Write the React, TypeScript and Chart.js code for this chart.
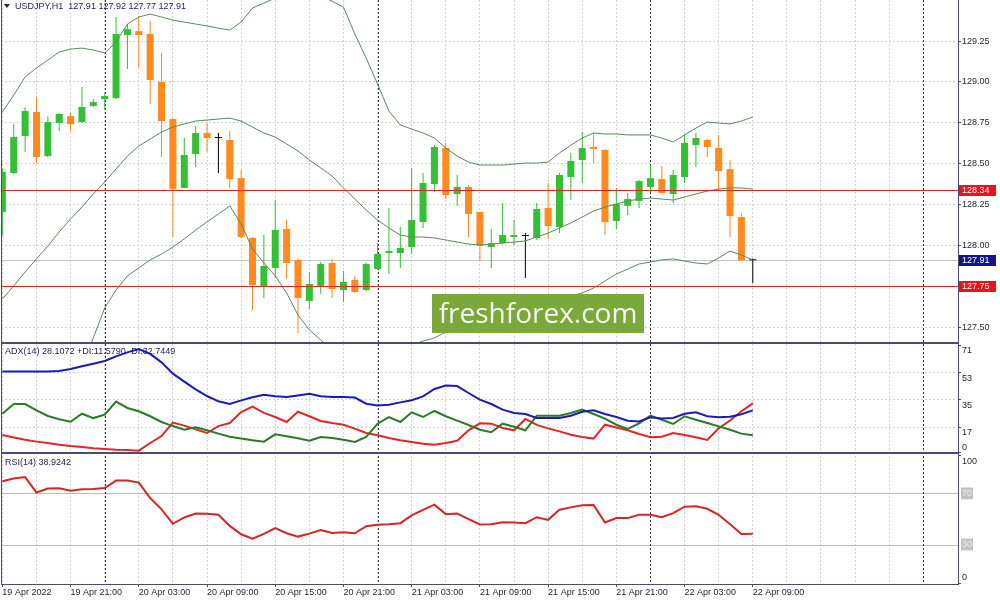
import React, { useEffect, useRef } from 'react';
import { Chart, registerables } from 'chart.js';

Chart.register(...registerables);

// ---------------- data ----------------
const SYMBOL = 'USDJPY,H1';
const LAST_QUOTE = ['127.91', '127.92', '127.77', '127.91'];
const ADX_LEGEND = 'ADX(14) 28.1072 +DI:11.5790 -DI:32.7449';
const RSI_LEGEND = 'RSI(14) 38.9242';

// hourly bars, first bar = 19 Apr 15:00
const OPEN = [128.205, 128.443, 128.669, 128.816, 128.547, 128.749, 128.791, 128.755, 128.853, 128.895,
  128.901, 129.287, 129.311, 129.293, 129.000, 128.773, 128.352, 128.559, 128.688, 128.657,
  128.645, 128.412, 128.046, 127.753, 127.863, 128.101, 127.911, 127.661, 127.753, 127.893,
  127.728, 127.790, 127.728, 127.857, 127.954, 127.954, 127.991, 128.144, 128.376, 128.596,
  128.315, 128.358, 128.205, 127.991, 128.015, 128.052, 128.058, 128.046, 128.229, 128.113,
  128.419, 128.523, 128.602, 128.584, 128.150, 128.242, 128.272, 128.358, 128.406, 128.315,
  128.419, 128.614, 128.645, 128.596, 128.467, 128.174, 127.910];
const HIGH = [128.470, 128.742, 128.846, 128.907, 128.791, 128.810, 128.810, 128.969, 128.895, 128.932,
  129.397, 129.354, 129.403, 129.372, 129.177, 128.780, 128.657, 128.730, 128.749, 128.688,
  128.700, 128.461, 128.052, 128.064, 128.278, 128.156, 127.918, 127.838, 127.899, 127.918,
  127.844, 127.814, 127.893, 128.015, 128.229, 128.113, 128.474, 128.443, 128.614, 128.627,
  128.431, 128.370, 128.205, 128.101, 128.260, 128.156, 128.076, 128.260, 128.382, 128.443,
  128.565, 128.694, 128.688, 128.590, 128.352, 128.321, 128.401, 128.492, 128.486, 128.461,
  128.676, 128.688, 128.651, 128.676, 128.523, 128.199, 127.920];
const LOW = [128.060, 128.437, 128.571, 128.504, 128.540, 128.700, 128.700, 128.749, 128.847, 128.828,
  128.895, 129.079, 129.085, 128.865, 128.541, 128.052, 128.350, 128.480, 128.571, 128.443,
  128.352, 128.046, 127.606, 127.679, 127.801, 127.795, 127.465, 127.612, 127.704, 127.679,
  127.655, 127.710, 127.722, 127.850, 127.826, 127.863, 127.948, 128.107, 128.327, 128.284,
  128.242, 128.052, 127.905, 127.863, 128.009, 128.003, 127.801, 128.034, 128.040, 128.076,
  128.278, 128.382, 128.504, 128.064, 128.101, 128.186, 128.229, 128.327, 128.315, 128.260,
  128.382, 128.480, 128.541, 128.339, 128.052, 127.905, 127.770];
const CLOSE = [128.450, 128.663, 128.822, 128.541, 128.755, 128.804, 128.742, 128.847, 128.877, 128.914,
  129.293, 129.323, 129.287, 129.012, 128.761, 128.345, 128.553, 128.688, 128.657, 128.657,
  128.406, 128.052, 127.759, 127.875, 128.095, 127.893, 127.679, 127.765, 127.887, 127.734,
  127.777, 127.716, 127.887, 127.948, 127.966, 127.985, 128.156, 128.382, 128.602, 128.309,
  128.358, 128.193, 127.997, 128.015, 128.064, 128.064, 128.058, 128.223, 128.119, 128.431,
  128.517, 128.596, 128.590, 128.144, 128.254, 128.284, 128.394, 128.412, 128.321, 128.431,
  128.627, 128.657, 128.602, 128.455, 128.180, 127.910, 127.910];

const BB_UPPER = [128.816, 128.920, 129.030, 129.085, 129.134, 129.183, 129.201, 129.207, 129.195, 129.177,
  129.244, 129.354, 129.397, 129.415, 129.397, 129.378, 129.366, 129.354, 129.342, 129.329,
  129.317, 129.366, 129.452, 129.482, 129.513, 129.531, 129.580, 129.562, 129.525, 129.494,
  129.458, 129.293, 129.146, 128.987, 128.822, 128.737, 128.712, 128.688, 128.657, 128.596,
  128.547, 128.510, 128.492, 128.492, 128.492, 128.498, 128.504, 128.504, 128.510, 128.566,
  128.614, 128.657, 128.688, 128.682, 128.682, 128.676, 128.676, 128.676, 128.657, 128.633,
  128.676, 128.718, 128.755, 128.749, 128.743, 128.761, 128.786];
const BB_MID = [127.673, 127.753, 127.838, 127.918, 127.997, 128.083, 128.162, 128.235, 128.315, 128.388,
  128.468, 128.547, 128.608, 128.651, 128.694, 128.724, 128.743, 128.761, 128.767, 128.773,
  128.779, 128.761, 128.724, 128.688, 128.663, 128.621, 128.578, 128.523, 128.474, 128.425,
  128.352, 128.284, 128.217, 128.156, 128.107, 128.064, 128.052, 128.052, 128.046, 128.034,
  128.021, 128.009, 128.003, 128.009, 128.015, 128.021, 128.028, 128.052, 128.076, 128.107,
  128.138, 128.174, 128.211, 128.235, 128.254, 128.272, 128.284, 128.290, 128.284, 128.278,
  128.297, 128.315, 128.333, 128.345, 128.352, 128.352, 128.345];
const BB_LOWER = [126.530, 126.585, 126.646, 126.750, 126.860, 126.982, 127.123, 127.264, 127.435, 127.618,
  127.728, 127.814, 127.863, 127.912, 127.948, 127.991, 128.040, 128.095, 128.144, 128.193,
  128.242, 128.132, 127.979, 127.893, 127.814, 127.710, 127.575, 127.484, 127.423, 127.355,
  127.245, 127.276, 127.288, 127.325, 127.392, 127.392, 127.392, 127.416, 127.435, 127.471,
  127.496, 127.508, 127.514, 127.545, 127.569, 127.588, 127.606, 127.624, 127.649, 127.667,
  127.691, 127.710, 127.740, 127.783, 127.826, 127.856, 127.887, 127.899, 127.912, 127.918,
  127.905, 127.893, 127.887, 127.924, 127.966, 127.942, 127.912];

const ADX = [53.9, 53.9, 53.9, 53.9, 53.9, 54.2, 55.5, 57.3, 59.0, 60.8,
  63.9, 66.5, 68.7, 65.5, 59.9, 52.4, 47.1, 42.0, 37.6, 34.1,
  32.3, 34.7, 36.8, 38.5, 37.4, 37.0, 38.0, 39.1, 37.4, 37.0,
  37.0, 36.6, 32.5, 31.4, 31.9, 33.4, 34.8, 37.4, 42.3, 44.5,
  44.2, 39.6, 35.2, 32.3, 28.6, 26.4, 25.7, 23.1, 23.1, 23.1,
  24.6, 27.2, 28.1, 25.7, 23.7, 21.3, 20.8, 23.5, 22.8, 23.1,
  25.9, 26.8, 24.2, 23.5, 23.9, 25.5, 28.1];
const PLUS_DI = [25.9, 32.3, 32.3, 28.1, 24.4, 22.2, 20.6, 25.9, 23.0, 25.3,
  33.9, 29.7, 27.5, 24.2, 20.4, 17.7, 15.3, 16.9, 14.9, 12.7,
  10.7, 9.4, 8.3, 7.4, 12.2, 10.9, 9.6, 8.0, 10.5, 9.8,
  8.7, 7.2, 10.5, 19.3, 23.7, 20.4, 26.8, 23.7, 27.7, 24.2,
  21.3, 18.4, 15.3, 13.6, 19.3, 17.3, 14.9, 24.6, 24.6, 24.6,
  26.4, 28.6, 25.7, 22.6, 18.6, 15.8, 19.5, 24.6, 21.9, 19.1,
  24.2, 21.9, 19.7, 17.5, 15.3, 12.7, 11.6];
const MINUS_DI = [11.8, 10.2, 8.7, 7.4, 6.5, 5.4, 4.5, 3.8, 3.0, 2.5,
  2.1, 1.9, 1.4, 6.5, 11.1, 20.0, 18.0, 15.5, 13.1, 17.7,
  19.7, 27.0, 30.6, 26.4, 23.7, 20.4, 27.2, 24.2, 21.1, 19.7,
  18.6, 16.0, 13.1, 11.6, 9.8, 8.3, 7.2, 6.0, 5.4, 6.5,
  8.0, 14.9, 19.5, 19.3, 16.4, 14.9, 22.4, 18.5, 16.2, 14.2,
  12.0, 10.5, 9.4, 18.6, 16.7, 14.9, 12.5, 10.3, 10.7, 13.1,
  11.8, 10.3, 8.5, 16.2, 21.4, 27.5, 32.7];
const RSI = [80.0, 82.1, 83.2, 71.1, 74.2, 74.5, 72.6, 73.7, 73.9, 74.7,
  80.5, 80.5, 78.9, 66.8, 57.9, 46.6, 51.6, 54.7, 54.5, 53.7,
  45.0, 38.4, 35.0, 38.7, 43.2, 39.2, 36.6, 38.9, 41.8, 39.5,
  40.0, 39.2, 44.7, 45.8, 46.3, 47.1, 53.2, 57.6, 61.6, 54.2,
  54.7, 50.3, 46.1, 46.3, 47.9, 47.6, 47.1, 51.8, 49.7, 57.6,
  59.5, 61.1, 61.3, 47.6, 51.1, 51.1, 53.7, 53.7, 51.8, 55.0,
  60.0, 60.3, 58.4, 53.7, 46.3, 38.7, 38.9];

const X_TICK_BARS = [0, 6, 12, 18, 24, 30, 36, 42, 48, 54, 60, 66];
const X_TICK_TEXT = ['19 Apr 2022', '19 Apr 21:00', '20 Apr 03:00', '20 Apr 09:00', '20 Apr 15:00',
  '20 Apr 21:00', '21 Apr 03:00', '21 Apr 09:00', '21 Apr 15:00', '21 Apr 21:00', '22 Apr 03:00', '22 Apr 09:00'];
const X_GRID_BARS = [0, 3, 6, 9, 12, 15, 18, 21, 24, 27, 30, 33, 36, 39, 42, 45, 48, 51, 54, 57, 60, 63, 66, 69, 72, 75, 78, 81];
const DAY_STARTS = [9, 33, 57, 81];
const PRICE_TICKS = [127.5, 127.75, 128.0, 128.25, 128.5, 128.75, 129.0, 129.25];
const ADX_TICKS = [0, 17, 35, 53, 71];
const RSI_TICKS = [0, 30, 70, 100];
const RSI_LEVELS = [30, 70];
const RED_LEVELS = [128.34, 127.75];
const BID = 127.91;
const WATERMARK = 'freshforex.com';

// ---------------- styles ----------------
const FONT = '"Liberation Sans", Arial, sans-serif';
const FRAME = '#4b4b6e';
const GRIDC = '#d2d2d2';
const TEXT = '#26263a';
const BULL = '#34c034';
const BEAR = '#ff8a1e';
const DOJI = '#000000';
const BAND = '#5a8c5a';
const TRANSPARENT = 'rgba(0,0,0,0)';

const idx = OPEN.map((_, i) => i);
const candleColors = idx.map((i) => (CLOSE[i] > OPEN[i] ? BULL : CLOSE[i] < OPEN[i] ? BEAR : DOJI));
const bodies = idx.map((i) => ({ x: i, y: [Math.min(OPEN[i], CLOSE[i]), Math.max(OPEN[i], CLOSE[i])] }));
const wicks = idx.map((i) => ({ x: i, y: [LOW[i], HIGH[i]] }));
const series = (arr: number[]) => arr.map((v, i) => ({ x: i, y: v }));

const zeroPad = (s: any) => {
  s.paddingTop = 0; s.paddingBottom = 0; s.paddingLeft = 0; s.paddingRight = 0;
};

const panelClip = {
  id: 'panelClip',
  beforeDatasetDraw(chart: any, args: any) {
    const s = chart.scales[args.meta.yAxisID];
    const a = chart.chartArea;
    const ctx = chart.ctx;
    ctx.save();
    ctx.beginPath();
    ctx.rect(a.left, s.top, a.right - a.left, s.bottom - s.top);
    ctx.clip();
  },
  afterDatasetDraw(chart: any) {
    chart.ctx.restore();
  },
};

const decor = {
  id: 'decor',
  beforeDatasetsDraw(chart: any) {
    const { ctx, chartArea: a, scales } = chart;
    const { x, y, adx, rsi } = scales;
    ctx.save();
    ctx.lineWidth = 1;
    // bid line
    const by = Math.round(y.getPixelForValue(BID)) + 0.5;
    ctx.strokeStyle = '#c4c4c4';
    ctx.beginPath(); ctx.moveTo(a.left, by); ctx.lineTo(a.right, by); ctx.stroke();
    // day separators
    ctx.strokeStyle = '#3a3a3a';
    ctx.setLineDash([2, 2]);
    DAY_STARTS.forEach((d) => {
      const px = Math.round(x.getPixelForValue(d)) + 0.5;
      ctx.beginPath(); ctx.moveTo(px, a.top); ctx.lineTo(px, a.bottom); ctx.stroke();
    });
    ctx.setLineDash([]);
    // legends
    ctx.fillStyle = '#1e1e5a';
    ctx.font = `9px ${FONT}`;
    ctx.textBaseline = 'middle';
    ctx.textAlign = 'left';
    ctx.beginPath();
    ctx.moveTo(a.left + 3, y.top + 4); ctx.lineTo(a.left + 9, y.top + 4); ctx.lineTo(a.left + 6, y.top + 8);
    ctx.closePath(); ctx.fill();
    ctx.fillText(`${SYMBOL}  ${LAST_QUOTE.join(' ')}`, a.left + 14, y.top + 6.5);
    ctx.fillText(ADX_LEGEND, a.left + 4, adx.top + 8.5);
    ctx.fillText(RSI_LEGEND, a.left + 4, rsi.top + 10);
    ctx.restore();
  },
  afterDatasetsDraw(chart: any) {
    const { ctx, chartArea: a, scales } = chart;
    ctx.save();
    ctx.strokeStyle = '#e02424';
    ctx.lineWidth = 1;
    ctx.setLineDash([]);
    RED_LEVELS.forEach((v) => {
      const py = Math.round(scales.y.getPixelForValue(v)) + 0.5;
      ctx.beginPath(); ctx.moveTo(a.left, py); ctx.lineTo(a.right, py); ctx.stroke();
    });
    ctx.restore();
  },
  afterDraw(chart: any) {
    const { ctx, chartArea: a, scales } = chart;
    const { y, adx } = scales;
    ctx.save();
    // frames
    ctx.fillStyle = FRAME;
    ctx.fillRect(a.left, a.top, 1, a.bottom - a.top);
    [y.bottom, adx.bottom].forEach((b: number) => {
      ctx.fillRect(a.left, Math.round(b) - 1, a.right - a.left, 2);
    });
    // price boxes
    ctx.font = `9px ${FONT}`;
    ctx.textBaseline = 'middle';
    ctx.textAlign = 'left';
    const box = (v: number, color: string) => {
      const py = Math.round(y.getPixelForValue(v));
      ctx.fillStyle = color;
      ctx.fillRect(y.left + 1, py - 5, 37, 11);
      ctx.fillStyle = '#ffffff';
      ctx.fillText(v.toFixed(2), y.left + 4, py + 0.5);
    };
    RED_LEVELS.forEach((v) => box(v, '#e8141c'));
    box(BID, '#14148a');
    // watermark
    ctx.fillStyle = '#79a83b';
    ctx.fillRect(432, 294, 212, 39);
    ctx.fillStyle = 'rgba(255,255,255,0.93)';
    ctx.font = '28px "Open Sans", "Liberation Sans", sans-serif';
    ctx.textAlign = 'center';
    ctx.textBaseline = 'alphabetic';
    ctx.fillText(WATERMARK, 538, 323);
    ctx.restore();
  },
};

const tickFont = { family: FONT, size: 9 };

export default function App() {
  const ref = useRef<HTMLCanvasElement>(null);
  useEffect(() => {
    document.body.style.margin = '0';
    Chart.defaults.font.family = FONT;
    const chart = new Chart(ref.current as HTMLCanvasElement, {
      type: 'bar',
      data: {
        datasets: [
          { type: 'line', label: 'BB upper', data: series(BB_UPPER), xAxisID: 'x', yAxisID: 'y', borderColor: BAND, borderWidth: 1, pointRadius: 0, tension: 0, fill: false, order: 0 },
          { type: 'line', label: 'BB middle', data: series(BB_MID), xAxisID: 'x', yAxisID: 'y', borderColor: BAND, borderWidth: 1, pointRadius: 0, tension: 0, fill: false, order: 0 },
          { type: 'line', label: 'BB lower', data: series(BB_LOWER), xAxisID: 'x', yAxisID: 'y', borderColor: BAND, borderWidth: 1, pointRadius: 0, tension: 0, fill: false, order: 0 },
          { type: 'bar', label: 'bodies', data: bodies as any, xAxisID: 'x', yAxisID: 'y', backgroundColor: candleColors, barThickness: 7, minBarLength: 1, grouped: false, borderWidth: 0, inflateAmount: 0, order: 1 },
          { type: 'bar', label: 'wicks', data: wicks as any, xAxisID: 'x', yAxisID: 'y', backgroundColor: candleColors, barThickness: 1, grouped: false, borderWidth: 0, inflateAmount: 0, order: 2 },
          { type: 'line', label: 'ADX', data: series(ADX), xAxisID: 'x', yAxisID: 'adx', borderColor: '#1c1cb4', borderWidth: 2, pointRadius: 0, tension: 0, fill: false, order: 0 },
          { type: 'line', label: '+DI', data: series(PLUS_DI), xAxisID: 'x', yAxisID: 'adx', borderColor: '#2a7a2a', borderWidth: 2, pointRadius: 0, tension: 0, fill: false, order: 0 },
          { type: 'line', label: '-DI', data: series(MINUS_DI), xAxisID: 'x', yAxisID: 'adx', borderColor: '#e22626', borderWidth: 2, pointRadius: 0, tension: 0, fill: false, order: 0 },
          { type: 'line', label: 'RSI', data: series(RSI), xAxisID: 'x', yAxisID: 'rsi', borderColor: '#d42626', borderWidth: 2, pointRadius: 0, tension: 0, fill: false, order: 0 },
        ] as any,
      },
      options: {
        responsive: false,
        animation: false,
        events: [],
        layout: { padding: { left: 1, top: 0, right: 0, bottom: 0 } },
        plugins: { legend: { display: false }, tooltip: { enabled: false } },
        scales: {
          x: {
            type: 'linear', position: 'bottom', min: -0.12, max: 84.05, offset: false, bounds: 'data',
            afterBuildTicks: (s: any) => { s.ticks = X_GRID_BARS.map((v) => ({ value: v })); },
            afterFit: (s: any) => { s.height = 16; zeroPad(s); },
            grid: {
              offset: false, color: GRIDC, lineWidth: 1, drawTicks: true, tickLength: 3,
              tickColor: (c: any) => (c.tick && X_TICK_BARS.includes(c.tick.value) ? FRAME : TRANSPARENT),
            },
            border: { display: true, color: FRAME, width: 1, dash: [2, 2] },
            ticks: {
              autoSkip: false, maxRotation: 0, minRotation: 0, align: 'start', padding: 0, color: TEXT, font: tickFont,
              callback: (v: any) => { const k = X_TICK_BARS.indexOf(v); return k >= 0 ? X_TICK_TEXT[k] : ''; },
            },
          },
          y: {
            type: 'linear', position: 'right', stack: 'panels', stackWeight: 343, weight: 1,
            min: 127.404, max: 129.501, bounds: 'data',
            afterBuildTicks: (s: any) => { s.ticks = PRICE_TICKS.map((v) => ({ value: v })); },
            afterFit: (s: any) => { s.width = 42; zeroPad(s); },
            grid: { color: GRIDC, drawTicks: true, tickLength: 3, tickColor: FRAME },
            border: { display: true, color: FRAME, width: 1, dash: [2, 2] },
            ticks: { autoSkip: false, padding: 1, color: TEXT, font: tickFont, callback: (v: any) => Number(v).toFixed(2) },
          },
          adx: {
            type: 'linear', position: 'right', stack: 'panels', stackWeight: 110, weight: 2,
            min: -0.13, max: 72.72, bounds: 'data',
            afterBuildTicks: (s: any) => { s.ticks = ADX_TICKS.map((v) => ({ value: v })); },
            afterFit: (s: any) => { s.width = 42; zeroPad(s); },
            grid: {
              color: (c: any) => (c.tick && c.tick.value > 0 && c.tick.value < 71 ? GRIDC : TRANSPARENT),
              drawTicks: true, tickLength: 3, tickColor: FRAME,
            },
            border: { display: true, color: FRAME, width: 1, dash: [2, 2] },
            ticks: {
              autoSkip: false, padding: 1, color: TEXT, font: tickFont,
              callback: (v: any) => (v === 0 ? ['0', ''] : ['', String(v)]),
            },
          },
          rsi: {
            type: 'linear', position: 'right', stack: 'panels', stackWeight: 131, weight: 3,
            min: -0.55, max: 102.1, bounds: 'data',
            afterBuildTicks: (s: any) => { s.ticks = RSI_TICKS.map((v) => ({ value: v })); },
            afterFit: (s: any) => { s.width = 42; zeroPad(s); },
            grid: {
              color: (c: any) => (c.tick && RSI_LEVELS.includes(c.tick.value) ? '#bcbcbc' : TRANSPARENT),
              drawTicks: true, tickLength: 3,
              tickColor: (c: any) => (c.tick && RSI_LEVELS.includes(c.tick.value) ? TRANSPARENT : FRAME),
            },
            border: { display: true, color: FRAME, width: 1 },
            ticks: {
              autoSkip: false, padding: 1, font: tickFont,
              color: (c: any) => (c.tick && RSI_LEVELS.includes(c.tick.value) ? '#ededed' : TEXT),
              showLabelBackdrop: (c: any) => !!(c.tick && RSI_LEVELS.includes(c.tick.value)),
              backdropColor: '#c2c2c2',
              backdropPadding: { top: 1, bottom: 0, left: 1, right: 1 },
              callback: (v: any) => (v === 100 ? ['', '100'] : v === 0 ? ['0', ''] : String(v)),
            },
          },
        } as any,
      },
      plugins: [panelClip, decor],
    } as any);
    return () => chart.destroy();
  }, []);
  return (
    <div style={{ width: 1000, height: 600 }}>
      <canvas ref={ref} width={1000} height={600} style={{ display: 'block' }} />
    </div>
  );
}
